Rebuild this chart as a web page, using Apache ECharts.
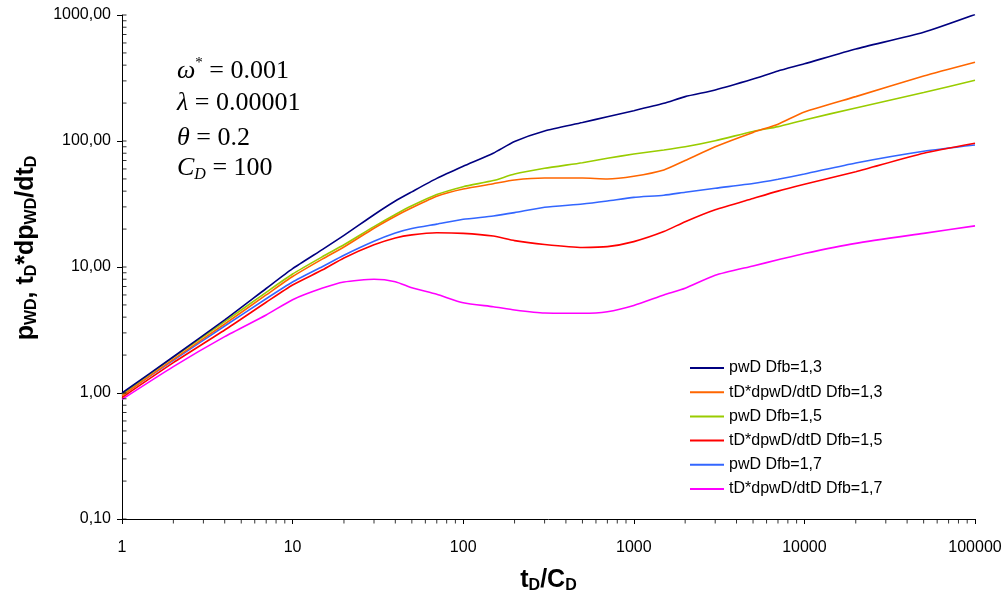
<!DOCTYPE html>
<html>
<head>
<meta charset="utf-8">
<script src="https://cdn.jsdelivr.net/npm/echarts@6/dist/echarts.min.js"></script>
<style>
  html, body { margin: 0; padding: 0; background: #ffffff; }
  #chart { width: 1007px; height: 596px; }
</style>
</head>
<body>
<div id="chart"></div>
<script>
// Dimensionless time tD/CD
const tCD = [1, 2, 4, 7, 10, 15, 20, 30, 40, 50, 70, 100, 150, 200, 300, 500, 700,
  1000, 1500, 2000, 3000, 5000, 7000, 10000, 20000, 50000, 100000];

// Pressure and pressure derivative for three fractal dimensions
const pwD13 = [1.0, 1.94, 3.8, 6.75, 9.7, 13.8, 17.8, 26, 33.4, 39.5, 50.5, 63, 80, 99, 120, 140, 156,
  174, 199, 225, 254, 310, 359, 410, 537, 730, 1010];
const dpwD13 = [0.95, 1.85, 3.53, 6.0, 8.4, 11.6, 14.4, 20.3, 25.3, 29.5, 36.5, 41.6, 45.8, 49, 50.8, 50.8, 49.9,
  52.5, 58.9, 70, 90, 117, 136, 170, 225, 328, 422];
const pwD15 = [0.98, 1.92, 3.68, 6.3, 8.8, 12.1, 15.0, 20.9, 26.1, 30.6, 37.6, 43.4, 48.5, 54.7, 60.7, 67.3, 72.9,
  78.8, 84.8, 90, 100.5, 119, 130, 147, 183, 243, 303];
const dpwD15 = [0.92, 1.74, 3.16, 5.25, 7.2, 9.5, 11.8, 15.0, 17.0, 18.0, 18.7, 18.5, 17.6, 16.2, 15.1, 14.3, 14.5,
  15.9, 19.1, 22.9, 28.5, 35, 40, 45.3, 57, 80, 96];
const pwD17 = [0.96, 1.82, 3.4, 5.6, 7.6, 10.1, 12.4, 16.0, 18.6, 20.2, 21.9, 23.9, 25.4, 27, 29.8, 31.6, 33.4,
  35.7, 37.1, 39.2, 42.2, 46, 49.7, 54.7, 67, 83, 93];
const dpwD17 = [0.89, 1.62, 2.8, 4.16, 5.5, 6.8, 7.6, 8.0, 7.65, 6.85, 6.07, 5.2, 4.84, 4.56, 4.31, 4.29, 4.42,
  4.95, 6.0, 6.78, 8.6, 10.2, 11.4, 12.8, 15.4, 18.5, 21.2];

const seriesNames = [
  'pwD Dfb=1,3', 'tD*dpwD/dtD Dfb=1,3',
  'pwD Dfb=1,5', 'tD*dpwD/dtD Dfb=1,5',
  'pwD Dfb=1,7', 'tD*dpwD/dtD Dfb=1,7'
];
const seriesValues = [pwD13, dpwD13, pwD15, dpwD15, pwD17, dpwD17];
const seriesColors = ['#000080', '#FF6600', '#99CC00', '#FF0000', '#3366FF', '#FF00FF'];

// Axis ranges and log tick positions
const xMin = 1, xMax = 100000, yMin = 0.1, yMax = 1000;
const xMinor = [];
for (let d = 1; d < xMax; d *= 10) for (let k = 2; k <= 9; k++) xMinor.push(+(d * k).toPrecision(6));
const yInner = [];
for (let e = -1; e <= 3; e++) for (let k = 1; k <= 9; k++) {
  const v = +(k * Math.pow(10, e)).toPrecision(6);
  if (v <= yMax) yInner.push(v);
}

const chart = echarts.init(document.getElementById('chart'), null, { renderer: 'canvas' });

const lineSeries = seriesNames.map((name, i) => ({
  name: name,
  type: 'line',
  data: tCD.map((t, j) => [t, seriesValues[i][j]]),
  showSymbol: false,
  symbol: 'none',
  smooth: 0.2,
  lineStyle: { color: seriesColors[i], width: 1.6 },
  itemStyle: { color: seriesColors[i] },
  emphasis: { disabled: true },
  z: 3 + (5 - i)
}));

// Minor ticks under the x axis, drawn as thin bar symbols on the axis line
const xTickSeries = {
  type: 'scatter',
  silent: true,
  clip: false,
  data: xMinor.map(v => [v, yMin]),
  symbol: 'rect',
  symbolSize: [1, 4],
  symbolOffset: [0, 2.5],
  itemStyle: { color: '#000' },
  emphasis: { disabled: true },
  z: 10
};
// Ticks on the inner side of the y axis
const yTickSeries = {
  type: 'scatter',
  silent: true,
  clip: false,
  data: yInner.map(v => [xMin, v]),
  symbol: 'rect',
  symbolSize: [4, 1],
  symbolOffset: [2.5, 0],
  itemStyle: { color: '#000' },
  emphasis: { disabled: true },
  z: 10
};

const mathFont = 'Liberation Serif, Times New Roman, serif';
const mathRich = {
  i: { fontFamily: mathFont, fontStyle: 'italic', fontSize: 26, color: '#000' },
  n: { fontFamily: mathFont, fontSize: 26, color: '#000' },
  sup: { fontFamily: mathFont, fontSize: 15, color: '#000', verticalAlign: 'top', lineHeight: 30 },
  sub: { fontFamily: mathFont, fontStyle: 'italic', fontSize: 16, color: '#000', verticalAlign: 'bottom', lineHeight: 30 }
};
function mathText(top, text) {
  return { type: 'text', left: 177, top: top, silent: true,
    style: { text: text, rich: mathRich, fill: '#000' } };
}

const sans = 'Liberation Sans, Arial, sans-serif';
const titleRich = {
  b: { fontFamily: sans, fontWeight: 'bold', fontSize: 25, color: '#000', lineHeight: 28 },
  s: { fontFamily: sans, fontWeight: 'bold', fontSize: 16, color: '#000', verticalAlign: 'bottom', lineHeight: 28 }
};

chart.setOption({
  animation: false,
  backgroundColor: '#ffffff',
  grid: { left: 122, right: 32, top: 15, bottom: 77, containLabel: false, outerBoundsMode: 'none' },
  legend: {
    orient: 'vertical',
    left: 685,
    top: 355,
    data: seriesNames,
    icon: 'rect',
    itemWidth: 34,
    itemHeight: 2,
    itemGap: 8.2,
    selectedMode: false,
    textStyle: { fontFamily: sans, fontSize: 16, color: '#000', lineHeight: 16 }
  },
  xAxis: {
    type: 'log',
    logBase: 10,
    min: xMin,
    max: xMax,
    name: '{b|t}{s|D}{b|/C}{s|D}',
    nameLocation: 'middle',
    nameGap: 47,
    nameTextStyle: { rich: titleRich },
    axisLine: { lineStyle: { color: '#000', width: 1 } },
    axisTick: { show: true, inside: false, length: 5, lineStyle: { color: '#000' } },
    axisLabel: {
      margin: 21,
      fontFamily: sans,
      fontSize: 16,
      color: '#000',
      formatter: v => String(Math.round(v))
    },
    splitLine: { show: false }
  },
  yAxis: {
    type: 'log',
    logBase: 10,
    min: yMin,
    max: yMax,
    name: '{b|p}{s|WD}{b|, t}{s|D}{b|*dp}{s|WD}{b|/dt}{s|D}',
    nameLocation: 'middle',
    nameRotate: 90,
    nameGap: 82,
    nameTextStyle: { rich: titleRich, padding: [0, 0, 0, 38] },
    axisLine: { show: true, lineStyle: { color: '#000', width: 1 } },
    axisTick: { show: true, inside: false, length: 5, lineStyle: { color: '#000' } },
    axisLabel: {
      margin: 11,
      fontFamily: sans,
      fontSize: 16,
      color: '#000',
      formatter: v => v.toFixed(2).replace('.', ',')
    },
    splitLine: { show: false }
  },
  graphic: [
    mathText(56, '{i|ω}{sup|*}{n| = 0.001}'),
    mathText(90, '{i|λ}{n| = 0.00001}'),
    mathText(125, '{i|θ}{n| = 0.2}'),
    mathText(155, '{i|C}{sub|D}{n| = 100}')
  ],
  series: lineSeries.concat([xTickSeries, yTickSeries])
});
</script>
</body>
</html>
